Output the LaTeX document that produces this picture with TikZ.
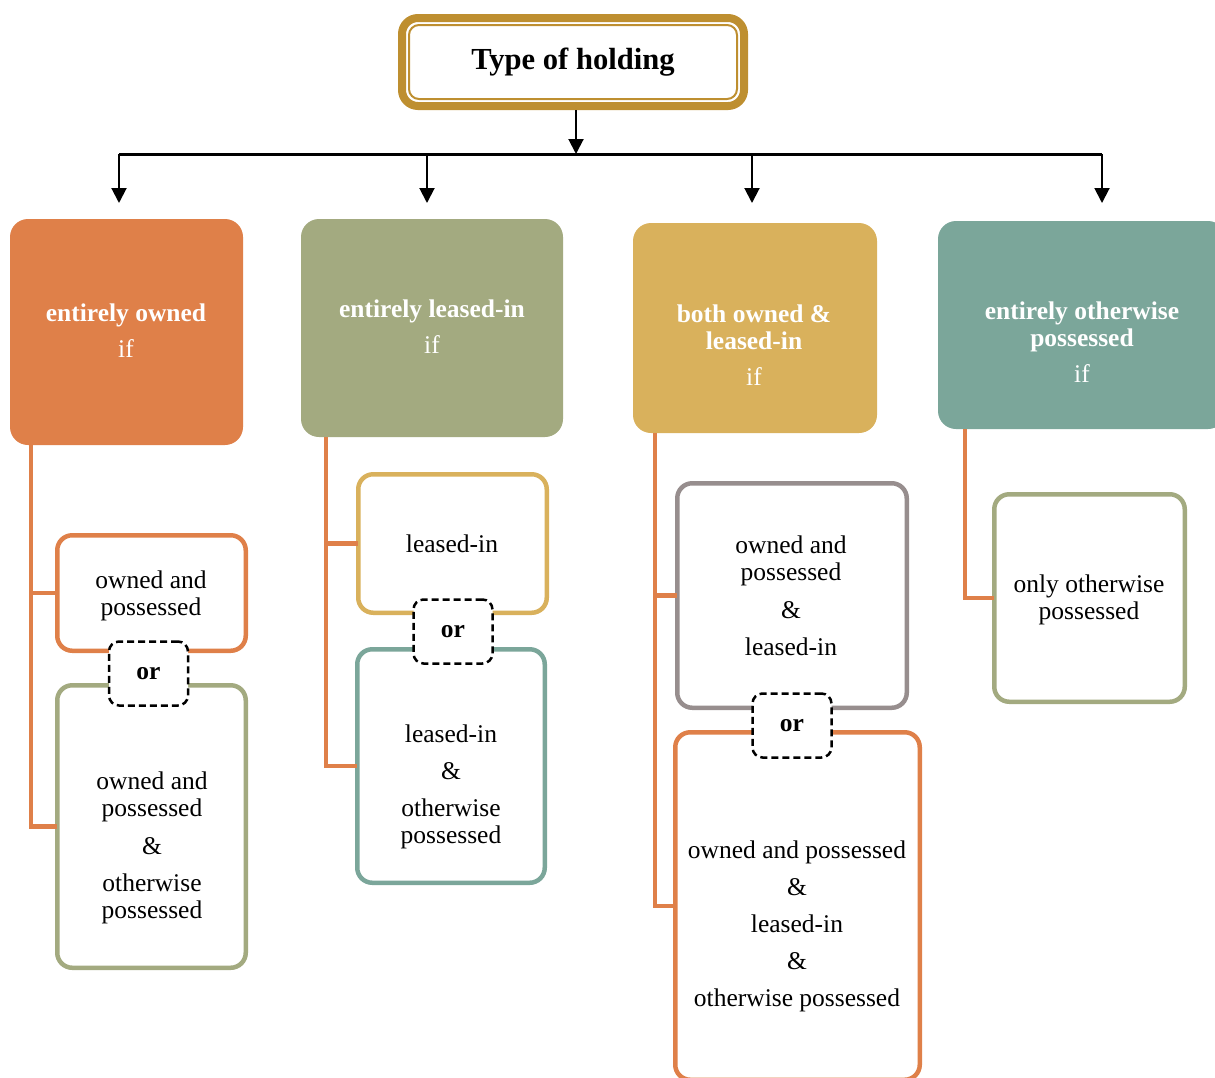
\documentclass[tikz,border=0pt]{standalone}
\usepackage{fontspec}
\setmainfont{Liberation Serif}
\usetikzlibrary{arrows.meta,calc}
\definecolor{corange}{HTML}{DF8049}
\definecolor{colive}{HTML}{A3AA80}
\definecolor{cgold}{HTML}{D9B15C}
\definecolor{cteal}{HTML}{7BA69A}
\definecolor{cgray}{HTML}{978E8E}
\definecolor{ctitle}{HTML}{BE8F30}
\begin{document}
\begin{tikzpicture}[x=1pt,y=-1pt,
  hdr/.style={rounded corners=18pt, inner sep=0pt, outer sep=0pt},
  hdrtext/.style={text=white, font=\fontsize{25.5}{27}\selectfont\bfseries, align=center, inner sep=0pt},
  sub/.style={draw, fill=white, line width=4.5pt, rounded corners=15pt, inner sep=0pt, outer sep=0pt},
  subtext/.style={font=\fontsize{25.5}{27}\selectfont, align=center, inner sep=0pt},
  orbox/.style={draw=black, fill=white, line width=2.5pt, dash pattern=on 7pt off 4pt, rounded corners=10pt, minimum width=79pt, minimum height=64pt, inner sep=0pt, font=\fontsize{25.5}{27}\selectfont\bfseries},
  conn/.style={draw=corange, line width=4.5pt},
  arr/.style={line width=2pt, -{Triangle[width=15pt,length=15pt]}},
]
\useasboundingbox (0,0) rectangle (1215,1077);
\clip (0,0) rectangle (1215,1077);

% title
\node[draw=ctitle, line width=8pt, rounded corners=16pt, minimum width=342pt, minimum height=88pt, inner sep=0pt, outer sep=0pt, font=\fontsize{30.6}{32}\selectfont\bfseries] (title) at (573,62) {Type of holding};
\draw[ctitle, line width=2pt, rounded corners=10pt] ([shift={(7,7)}]title.north west) rectangle ([shift={(-7,-7)}]title.south east);

% headers
\node[hdr, fill=corange, minimum width=233pt, minimum height=226pt] (h1) at (126.5,332) {};
\node[hdr, fill=colive, minimum width=262pt, minimum height=218pt] (h2) at (432,328) {};
\node[hdr, fill=cgold, minimum width=244pt, minimum height=210pt] (h3) at (755,328) {};
\node[hdr, fill=cteal, minimum width=288pt, minimum height=208pt] (h4) at (1082,325) {};

\node[hdrtext] (h1t) at (126,330.5) {entirely owned\\[9pt]\mdseries if};
\node[hdrtext] (h2t) at (432,327) {entirely leased-in\\[9pt]\mdseries if};
\node[hdrtext] (h3t) at (754,345) {both owned \&\\leased-in\\[9pt]\mdseries if};
\node[hdrtext] (h4t) at (1082,342.5) {entirely otherwise\\possessed\\[9pt]\mdseries if};

% bus and arrows
\coordinate (b1) at (119,154);
\coordinate (b2) at (427,154);
\coordinate (b3) at (752,154);
\coordinate (b4) at (1102,154);
\coordinate (tips) at (0,203);
\draw[arr] ([xshift=3pt,yshift=-4pt]title.south) -- ([xshift=3pt]title.south |- b1);
\draw[line width=3pt] (b1) -- (b4);
\draw[arr] (b1) -- (b1 |- tips);
\draw[arr] (b2) -- (b2 |- tips);
\draw[arr] (b3) -- (b3 |- tips);
\draw[arr] (b4) -- (b4 |- tips);

% sub boxes
\node[sub, draw=colive, minimum width=188.5pt, minimum height=282.5pt] (s1b) at (151.5,826.5) {};
\node[sub, draw=corange, minimum width=188.5pt, minimum height=115.5pt] (s1a) at (151.5,593) {};
\node[sub, draw=cteal, minimum width=187.5pt, minimum height=233.5pt] (s2b) at (451,766) {};
\node[sub, draw=cgold, minimum width=188.5pt, minimum height=138.5pt] (s2a) at (452.5,543.5) {};
\node[sub, draw=corange, minimum width=244.5pt, minimum height=347.5pt] (s3b) at (797.5,906) {};
\node[sub, draw=cgray, minimum width=229.5pt, minimum height=224.5pt] (s3a) at (792,595.5) {};
\node[sub, draw=colive, minimum width=190.5pt, minimum height=207.5pt] (s4) at (1089.5,598) {};

% connectors
\coordinate (c1) at ([xshift=21pt]h1.south west);
\coordinate (c2) at ([xshift=25pt]h2.south west);
\coordinate (c3) at ([xshift=22pt]h3.south west);
\coordinate (c4) at ([xshift=27pt]h4.south west);
\draw[conn] (c1) |- (s1b.west);
\draw[conn] (c1 |- s1a.west) -- (s1a.west);
\draw[conn] (c2) |- (s2b.west);
\draw[conn] (c2 |- s2a.west) -- (s2a.west);
\draw[conn] (c3) |- (s3b.west);
\draw[conn] (c3 |- s3a.west) -- (s3a.west);
\draw[conn] (c4) |- (s4.west);

% or boxes
\node[orbox] (or1) at (148.5,673.5) {or};
\node[orbox] (or2) at (453,631.5) {or};
\node[orbox] (or3) at (792,725.5) {or};

% texts
\node[subtext] (s1at) at (151,595.5) {owned and\\possessed};
\node[subtext] (s1bt) at (152,847.5) {owned and\\possessed\\[11pt]\&\\[10pt]otherwise\\possessed};
\node[subtext] (s2at) at (452,543.5) {leased-in};
\node[subtext] (s2bt) at (451,786.5) {leased-in\\[10pt]\&\\[10pt]otherwise\\possessed};
\node[subtext] (s3at) at (791,595.5) {owned and\\possessed\\[11pt]\&\\[10pt]leased-in};
\node[subtext] (s3bt) at (797,926.5) {owned and possessed\\[10pt]\&\\[10pt]leased-in\\[10pt]\&\\[10pt]otherwise possessed};
\node[subtext] (s4t) at (1089,600) {only otherwise\\possessed};
\end{tikzpicture}
\end{document}
